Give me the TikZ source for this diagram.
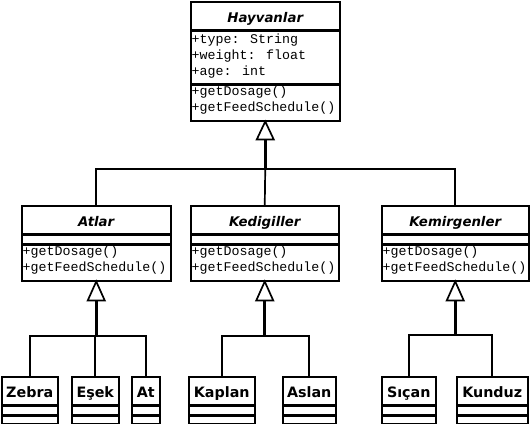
\documentclass[tikz,border=0pt]{standalone}
\usepackage{fontspec}
\newfontfamily\clsfamily{DejaVu Sans}
\newfontfamily\leaffamily{DejaVu Sans}
\newfontfamily\monofamily{Liberation Mono}
\tikzset{
  box/.style={draw, line width=1.5pt, inner sep=0pt, anchor=north west, fill=white},
  clsname/.style={box, minimum height=28pt, text height=12.5pt, text depth=0pt, font=\clsfamily\bfseries\itshape\fontsize{13.3}{15}\selectfont},
  mono/.style={anchor=north west, align=left, inner sep=0pt, font=\monofamily\fontsize{13.3}{16}\selectfont},
  leafname/.style={box, minimum height=28pt, text height=13.5pt, text depth=0pt, font=\leaffamily\bfseries\fontsize{14.3}{16}\selectfont},
  emptybox/.style={box, minimum height=8pt},
  trunk/.style={line width=2.6pt},
  branch/.style={line width=1.7pt},
  tri/.style={line width=1.7pt, fill=white, line join=miter},
}
\begin{document}
\begin{tikzpicture}[x=1pt, y=-1pt]
\useasboundingbox (0,0) rectangle (530,423);
% Hayvanlar
\node[clsname, minimum width=149pt] (hayN) at (190,1) {Hayvanlar};
\node[box, minimum width=149pt, minimum height=52pt] (hayA) at (hayN.south west) {};
\node[box, minimum width=149pt, minimum height=36pt] (hayM) at (hayA.south west) {};
\node[mono] (hayAt) at ([xshift=1.5pt, yshift=-3pt]hayA.north west) {+type: String\\+weight: float\\+age: int};
\node[mono] (hayMt) at ([xshift=1.5pt, yshift=-2pt]hayM.north west) {+getDosage()\\+getFeedSchedule()};
% Atlar
\node[clsname, minimum width=149pt] (atlN) at (21,205) {Atlar};
\node[emptybox, minimum width=149pt] (atlA) at (atlN.south west) {};
\node[box, minimum width=149pt, minimum height=36pt] (atlM) at (atlA.south west) {};
\node[mono] (atlMt) at ([xshift=1.5pt, yshift=-2pt]atlM.north west) {+getDosage()\\+getFeedSchedule()};
% Kedigiller
\node[clsname, minimum width=148pt] (kedN) at (190,205) {Kedigiller};
\node[emptybox, minimum width=148pt] (kedA) at (kedN.south west) {};
\node[box, minimum width=148pt, minimum height=36pt] (kedM) at (kedA.south west) {};
\node[mono] (kedMt) at ([xshift=1.5pt, yshift=-2pt]kedM.north west) {+getDosage()\\+getFeedSchedule()};
% Kemirgenler
\node[clsname, minimum width=147pt] (kemN) at (381,205) {Kemirgenler};
\node[emptybox, minimum width=147pt] (kemA) at (kemN.south west) {};
\node[box, minimum width=147pt, minimum height=36pt] (kemM) at (kemA.south west) {};
\node[mono] (kemMt) at ([xshift=1.5pt, yshift=-2pt]kemM.north west) {+getDosage()\\+getFeedSchedule()};
% Leaves
\newcommand\leafbox[4]{%
  \node[leafname, minimum width=#3pt] (#1N) at (#2,376) {#4};
  \node[emptybox, minimum width=#3pt] (#1A) at (#1N.south west) {};
  \node[emptybox, minimum width=#3pt] (#1B) at (#1A.south west) {};
}
\leafbox{zeb}{1}{56}{Zebra}
\leafbox{esk}{71}{47}{Eşek}
\leafbox{at}{131}{28}{At}
\leafbox{kap}{188}{66}{Kaplan}
\leafbox{asl}{282}{53}{Aslan}
\leafbox{sic}{381}{54}{Sıçan}
\leafbox{kun}{456}{71}{Kunduz}
% Top-level generalization
\coordinate (hj) at (hayM.south |- 0,169);
\coordinate (ht) at ([yshift=-18pt]hayM.south);
\draw[branch] (atlN.north) |- (hj) -| (kemN.north);
\draw[branch] (kedN.north) -- (hj);
\draw[trunk] (hj) -- (ht);
\draw[tri] (hayM.south) -- ([xshift=-8.5pt]ht) -- ([xshift=8.5pt]ht) -- cycle;
% Atlar children
\coordinate (aj) at (atlM.south |- 0,336);
\coordinate (at) at ([yshift=-19pt]atlM.south);
\draw[branch] (zebN.north) |- (aj) -| (atN.north);
\draw[branch] (eskN.north) -- (eskN.north |- aj);
\draw[trunk] (aj) -- (at);
\draw[tri] (atlM.south) -- ([xshift=-8.5pt]at) -- ([xshift=8.5pt]at) -- cycle;
% Kedigiller children
\coordinate (kj) at (kedM.south |- 0,336);
\coordinate (kt) at ([yshift=-19pt]kedM.south);
\draw[branch] (kapN.north) |- (kj) -| (aslN.north);
\draw[trunk] (kj) -- (kt);
\draw[tri] (kedM.south) -- ([xshift=-8.5pt]kt) -- ([xshift=8.5pt]kt) -- cycle;
% Kemirgenler children
\coordinate (mj) at (kemM.south |- 0,335);
\coordinate (mt) at ([yshift=-19pt]kemM.south);
\draw[branch] (sicN.north) |- (mj) -| (kunN.north);
\draw[trunk] (mj) -- (mt);
\draw[tri] (kemM.south) -- ([xshift=-8.5pt]mt) -- ([xshift=8.5pt]mt) -- cycle;
\end{tikzpicture}
\end{document}
